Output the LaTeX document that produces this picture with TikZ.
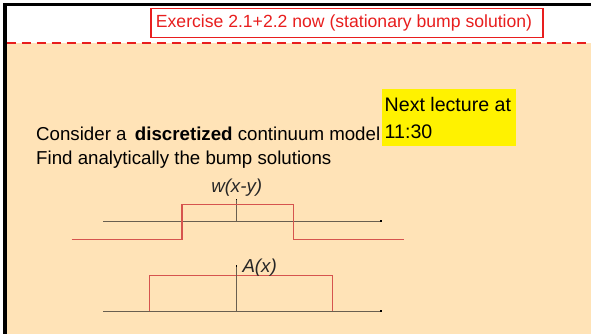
\documentclass[tikz,border=0pt]{standalone}
\usepackage{fontspec}
\setmainfont{Liberation Sans}
\definecolor{beige}{RGB}{255,227,183}
\definecolor{slidered}{RGB}{232,30,30}
\definecolor{curvered}{RGB}{214,84,78}
\definecolor{axisgray}{RGB}{105,95,80}
\tikzset{
  bodytext/.style={inner sep=0pt, anchor=base west, font=\fontsize{18.7}{24}\selectfont},
  notetext/.style={inner sep=0pt, anchor=base west, font=\fontsize{19.6}{24}\selectfont},
  plotlabel/.style={inner sep=0pt, anchor=base, font=\fontsize{18.7}{24}\selectfont\itshape, text=black!85},
  axisline/.style={draw=axisgray, line width=0.9pt},
  curve/.style={draw=curvered, line width=1.4pt},
  tipdot/.style={fill=black, minimum size=2pt, inner sep=0pt, draw=none}
}
\begin{document}
\begin{tikzpicture}[x=1pt,y=-1pt]
\useasboundingbox (0,0) rectangle (591,334);
\fill[white] (0,0) rectangle (591,334);
\fill[beige] (6.5,43) rectangle (591,334);
% black frame
\fill[black] (3,3) rectangle (6.5,334);
\fill[black] (3,3) rectangle (591,6.5);
% dashed separator
\draw[slidered, line width=2.5pt, dash pattern=on 9pt off 6pt] (6.5,43) -- (591,43);
% title box
\draw[slidered, line width=1.1pt] (151,8.3) rectangle (543,37.5);
\node[inner sep=0pt, text=slidered, font=\fontsize{17.6}{20}\selectfont] (title) at (344,22.7) {Exercise 2.1+2.2 now (stationary bump solution)};
% yellow note
\fill[yellow] (382,89.4) rectangle (516,146);
\node[notetext] (next) at (384.5,112) {Next lecture at};
\node[notetext] (time) at (384.5,138) {11:30};
% body text
\node[bodytext] (consider) at (36,140) {Consider a\, \textbf{discretized} continuum model};
\node[bodytext] (find) at (36,164) {Find analytically the bump solutions};
% plot 1: w(x-y)
\draw[axisline] (103.3,221) -- (380.5,221);
\node[tipdot] (tip1) at (380.5,221) {};
\draw[axisline] (236.3,221) -- (236.3,199.5);
\node[tipdot, minimum size=1.6pt] (vtip1) at (236.3,199.5) {};
\draw[curve] (71.7,239.3) -- (182,239.3) -- (182,204.3) -- (293.3,204.3) -- (293.3,239.3) -- (404.3,239.3);
\node[plotlabel] (wlabel) at (236.7,192.3) {w(x-y)};
% plot 2: A(x)
\draw[axisline] (103.3,311) -- (380.5,311);
\node[tipdot] (tip2) at (380.5,311) {};
\draw[curve] (149.3,311) -- (149.3,275.7) -- (332.3,275.7) -- (332.3,311);
\draw[axisline] (236.3,311) -- (236.3,266);
\node[tipdot, minimum size=1.6pt] (vtip2) at (236.3,266) {};
\node[plotlabel, anchor=base west] (alabel) at (242.3,272.3) {A(x)};
\end{tikzpicture}
\end{document}
